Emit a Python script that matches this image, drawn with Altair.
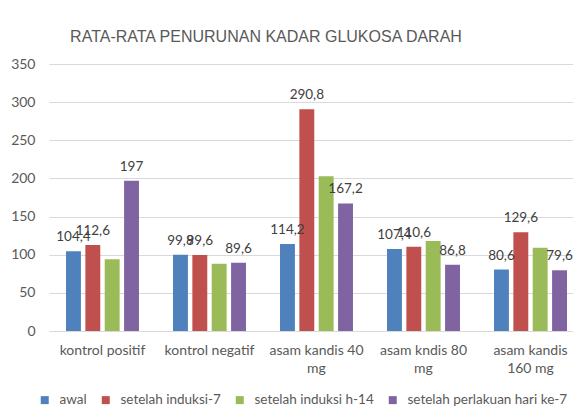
import altair as alt
import pandas as pd

categories = ["kontrol positif", "kontrol negatif", "asam kandis 40 mg", "asam kndis 80 mg", "asam kandis 160 mg"]
category_lines = [["kontrol positif"], ["kontrol negatif"], ["asam kandis 40", "mg"], ["asam kndis 80", "mg"], ["asam kandis", "160 mg"]]
series = ["awal", "setelah induksi-7", "setelah induksi h-14", "setelah perlakuan hari ke-7"]
awal = [104.4, 99.8, 114.2, 107.4, 80.6]
induksi_7 = [112.6, 99.6, 290.8, 110.6, 129.6]
induksi_h14 = [94, 88, 203, 118, 109]
perlakuan_7 = [197, 89.6, 167.2, 86.8, 79.6]
labelled_series = ["awal", "setelah induksi-7", "setelah perlakuan hari ke-7"]
colors = ["#4F81BD", "#C0504D", "#9BBB59", "#8064A2"]
y_ticks = [0, 50, 100, 150, 200, 250, 300, 350]

rows = []
for s, vals in zip(series, [awal, induksi_7, induksi_h14, perlakuan_7]):
    for c, v in zip(categories, vals):
        rows.append({"kategori": c, "seri": s, "nilai": v})
df = pd.DataFrame(rows)

# multi-line axis labels
expr = "datum.label"
for c, lines in reversed(list(zip(categories, category_lines))):
    arr = "[" + ",".join("'" + l + "'" for l in lines) + "]"
    expr = f"datum.label == '{c}' ? {arr} : ({expr})"

FONT = "Lato"
GRAY = "#595959"

x_enc = alt.X("kategori:N", sort=categories, title=None,
              scale=alt.Scale(range=[0, 535], paddingInner=0.318, paddingOuter=0.159),
              axis=alt.Axis(labelAngle=0, labelExpr=expr, domainColor="#D9D9D9", ticks=False,
                            labelPadding=12, labelFontSize=14, labelColor=GRAY, labelFont=FONT,
                            labelLineHeight=18))
xoff = alt.XOffset("seri:N", sort=series, scale=alt.Scale(paddingInner=0.23, paddingOuter=0))
y_axis = alt.Axis(values=y_ticks, domain=False, ticks=False, gridColor="#D9D9D9",
                  labelPadding=14, labelFontSize=14, labelColor=GRAY, labelFont=FONT)
y_enc = alt.Y("nilai:Q", title=None, scale=alt.Scale(domain=[0, 350], nice=False), axis=y_axis)

base = alt.Chart(df)

bars = base.mark_bar().encode(
    x=x_enc, xOffset=xoff, y=y_enc,
    color=alt.Color("seri:N", sort=series, scale=alt.Scale(domain=series, range=colors),
                    legend=alt.Legend(title=None, orient="none", direction="horizontal",
                                      legendX=-11, legendY=329,
                                      symbolType="square", symbolSize=64, symbolStrokeWidth=0,
                                      labelFontSize=13.5, labelColor=GRAY, labelFont=FONT,
                                      columnPadding=12, labelOffset=8)),
)

labels = base.transform_filter(
    alt.FieldOneOfPredicate(field="seri", oneOf=labelled_series)
).transform_calculate(
    teks="replace(format(datum.nilai, '.4~g'), '.', ',')"
).mark_text(baseline="alphabetic", dy=-10, fontSize=13.5, font=FONT, color="#404040").encode(
    x=x_enc, xOffset=xoff, y=y_enc,
    text="teks:N",
)

chart = alt.layer(bars, labels).properties(
    width=524, height=267,
    title=alt.TitleParams("RATA-RATA PENURUNAN KADAR GLUKOSA DARAH", fontSize=16, font="Liberation Sans",
                          color=GRAY, fontWeight="normal", anchor="middle", frame="group",
                          dx=-45, dy=11, baseline="alphabetic", offset=10),
    autosize=alt.AutoSizeParams(type="none"),
    padding={"left": 41, "top": 56, "right": 0, "bottom": 76},
).configure_view(stroke=None)

chart.save("out.html", embed_options={"renderer": "svg", "actions": False})
